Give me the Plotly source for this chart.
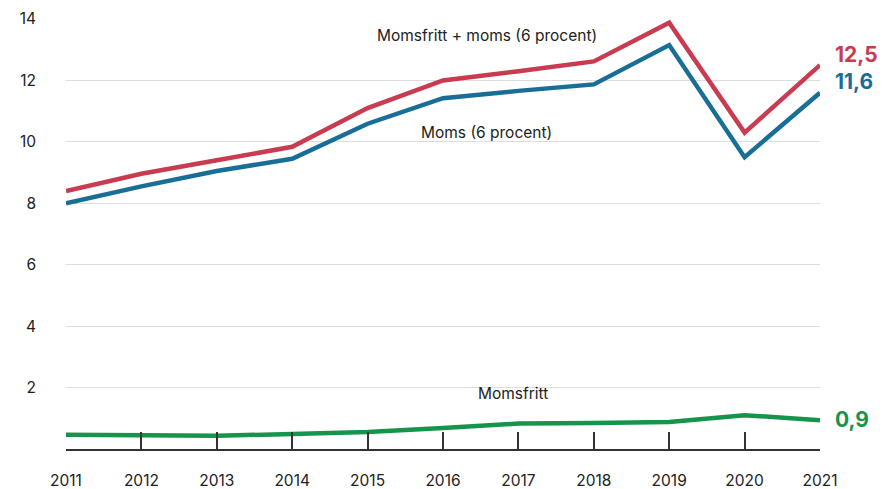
import plotly.graph_objects as go

years = [2011, 2012, 2013, 2014, 2015, 2016, 2017, 2018, 2019, 2020, 2021]
momsfritt_plus_moms = [8.4, 8.96, 9.4, 9.84, 11.1, 12.0, 12.3, 12.62, 13.88, 10.3, 12.5]
moms = [8.0, 8.55, 9.05, 9.45, 10.59, 11.42, 11.66, 11.87, 13.15, 9.5, 11.6]
momsfritt = [0.46, 0.44, 0.43, 0.49, 0.55, 0.68, 0.83, 0.85, 0.88, 1.1, 0.94]

series_names = ["Momsfritt + moms (6 procent)", "Moms (6 procent)", "Momsfritt"]
end_labels = ["12,5", "11,6", "0,9"]
y_ticks = [2, 4, 6, 8, 10, 12, 14]

RED = "#C83B50"
BLUE = "#186E96"
GREEN = "#17944B"
FONT = "Inter, Roboto, sans-serif"

fig = go.Figure()
for vals, col, name in [(momsfritt_plus_moms, RED, series_names[0]),
                        (moms, BLUE, series_names[1]),
                        (momsfritt, GREEN, series_names[2])]:
    fig.add_trace(go.Scatter(x=years, y=vals, mode="lines", name=name,
                             line=dict(color=col, width=4.5), showlegend=False))

# in-chart series labels
fig.add_annotation(x=2016.58, y=13.45, text=series_names[0], showarrow=False,
                   font=dict(size=15.5, color="#222"))
fig.add_annotation(x=2016.58, y=10.3, text=series_names[1], showarrow=False,
                   font=dict(size=15.5, color="#222"))
fig.add_annotation(x=2016.93, y=1.8, text=series_names[2], showarrow=False,
                   font=dict(size=15.5, color="#222"))

# end value labels
for vals, col, lab, ys in [(momsfritt_plus_moms, RED, end_labels[0], 11),
                           (moms, BLUE, end_labels[1], 11),
                           (momsfritt, GREEN, end_labels[2], 1)]:
    fig.add_annotation(x=years[-1], y=vals[-1], text="<b>" + lab + "</b>",
                       showarrow=False, xanchor="left", xshift=13, yshift=ys,
                       font=dict(size=21, color=col))

fig.update_layout(
    width=895, height=489,
    margin=dict(l=58, r=83, t=11, b=48),
    plot_bgcolor="white", paper_bgcolor="white",
    font=dict(family=FONT, size=15.5, color="#222"),
    xaxis=dict(range=[2011, 2021], tickvals=years, ticktext=[str(y) for y in years],
               showgrid=False, zeroline=False, showline=True, linecolor="#333",
               linewidth=1.5, ticks="inside", ticklen=17, tickcolor="#333",
               tickwidth=1.5, ticklabelstandoff=17, fixedrange=True, automargin=False),
    yaxis=dict(range=[0, 14], tickvals=y_ticks, showgrid=True, gridcolor="#DDDDDD",
               gridwidth=1, zeroline=False, showline=False, ticks="",
               ticklabelstandoff=29, fixedrange=True, automargin=False),
)

fig.write_html("out.html")
